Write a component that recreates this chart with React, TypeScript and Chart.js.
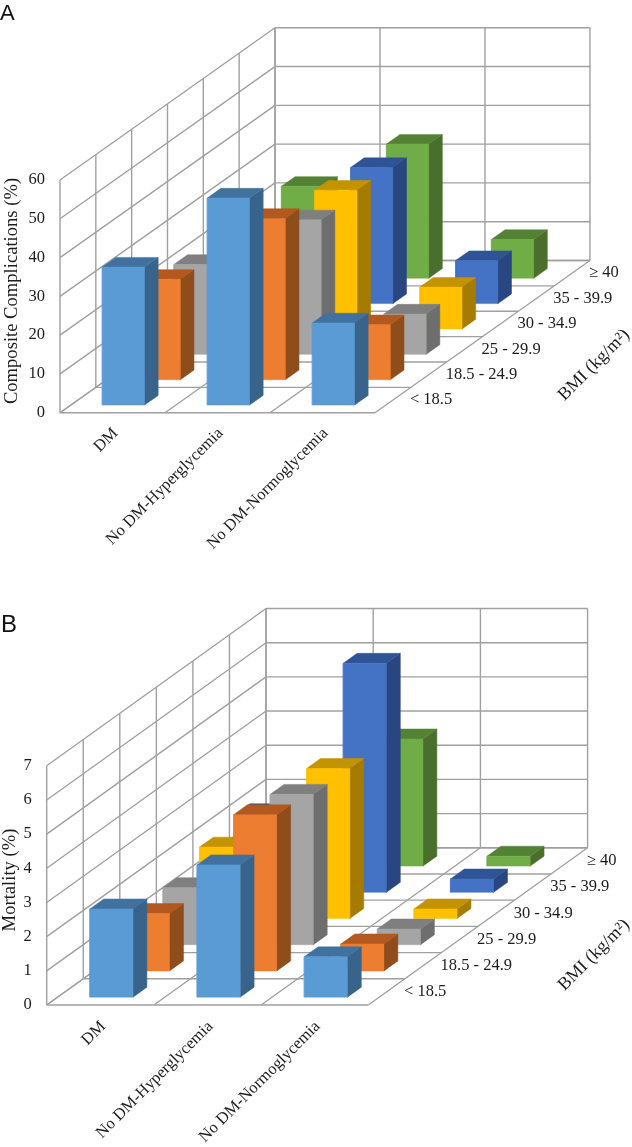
import React, { useEffect, useRef } from "react";
import { Chart, registerables } from "chart.js";

Chart.register(...registerables);

const categories = ["DM", "No DM-Hyperglycemia", "No DM-Normoglycemia"];
const bmiGroups = ["< 18.5", "18.5 - 24.9", "25 - 29.9", "30 - 34.9", "35 - 39.9", "≥ 40"];

const complicationsDm = [35.6, 25.9, 23.2, 25, 20, 23.7];
const complicationsHyper = [53.4, 41.6, 34.7, 35.8, 35.1, 34.6];
const complicationsNormo = [21.2, 14.2, 10.4, 10.8, 11.1, 10.0];

const mortalityDm = [2.58, 1.68, 1.67, 2.09, 2.3, 1.5];
const mortalityHyper = [3.87, 4.57, 4.4, 4.39, 6.7, 3.72];
const mortalityNormo = [1.18, 0.79, 0.46, 0.28, 0.39, 0.29];

const frontColors = ["#5B9BD5", "#ED7D31", "#A5A5A5", "#FFC000", "#4472C4", "#70AD47"];
const sideColors = ["#38648C", "#8F4D1C", "#6E6E6E", "#A67C00", "#2A4680", "#4A6F2C"];
const topColors = ["#41729F", "#B3591F", "#7F7F7F", "#C49300", "#2F5496", "#548235"];

const GRID = "#a0a0a0";
const INK = "#1c1c1c";
const SERIF = '"Liberation Serif"';

type Panel = {
  letter: string;
  letterX: number; letterY: number; letterSize: number;
  title: string;
  titleX: number; titleY: number;
  series: number[][];
  height: number;
  left: number;
  catPx: number;
  zeroY: number;
  plotTop: number;
  vMax: number;
  vTop: number;
  step: number;
  kx: number;
  ky: number;
  catLabelDx: number;
  catLabelDy: number;
  bmiLabelDx: number;
  bmiTitleX: number;
  bmiTitleY: number;
};

const panels: Panel[] = [
  {
    letter: "A", letterX: 0, letterY: 20, letterSize: 22,
    title: "Composite Complications (%)", titleX: 12, titleY: 291,
    series: [complicationsDm, complicationsHyper, complicationsNormo],
    height: 570, left: 60, catPx: 105, zeroY: 412.7, plotTop: 0, vMax: 60, vTop: 100, step: 10,
    kx: 35.83 / 105, ky: 27 / 4.127,
    catLabelDx: 3, catLabelDy: 18, bmiLabelDx: 17, bmiTitleX: 594, bmiTitleY: 365,
  },
  {
    letter: "B", letterX: 1, letterY: 62, letterSize: 24,
    title: "Mortality (%)", titleX: 10, titleY: 310,
    series: [mortalityDm, mortalityHyper, mortalityNormo],
    height: 577, left: 46.7, catPx: 107.2, zeroY: 435, plotTop: 4.68, vMax: 7, vTop: 12, step: 1,
    kx: 36.55 / 107.2, ky: 27.5 / 35.86,
    catLabelDx: 3, catLabelDy: 19, bmiLabelDx: 17.4, bmiTitleX: 594, bmiTitleY: 385,
  },
];

const WIDTH = 632;
const GAP = 0.3;
const BAR_W = 0.403;
const BAR_D = 0.38;

function buildDatasets(p: Panel) {
  const at = (c: number, d: number, v: number) => ({ x: c + d * p.kx, y: v + d * p.ky });
  const gridLine = (a: { x: number; y: number }, b: { x: number; y: number }) => ({
    type: "scatter" as const,
    data: [a, b],
    showLine: true,
    fill: false,
    borderColor: GRID,
    borderWidth: 1.4,
    pointRadius: 0,
    clip: false,
  });
  const face = (pts: { x: number; y: number }[], color: string) => ({
    type: "scatter" as const,
    data: [...pts, pts[0]],
    showLine: true,
    fill: "shape",
    backgroundColor: color,
    borderColor: color,
    borderWidth: 0.5,
    pointRadius: 0,
    clip: false,
  });

  const nCat = categories.length;
  const nRow = bmiGroups.length;
  const sequence: any[] = [];

  for (let v = 0; v <= p.vMax; v += p.step) {
    sequence.push(gridLine(at(0, 0, v), at(0, nRow, v)));
    sequence.push(gridLine(at(0, nRow, v), at(nCat, nRow, v)));
  }
  for (let r = 0; r <= nRow; r++) {
    sequence.push(gridLine(at(0, r, 0), at(0, r, p.vMax)));
    sequence.push(gridLine(at(0, r, 0), at(nCat, r, 0)));
  }
  for (let c = 0; c <= nCat; c++) {
    sequence.push(gridLine(at(c, 0, 0), at(c, nRow, 0)));
    sequence.push(gridLine(at(c, nRow, 0), at(c, nRow, p.vMax)));
  }

  for (let r = nRow - 1; r >= 0; r--) {
    for (let c = 0; c < nCat; c++) {
      const v = p.series[c][r];
      const c0 = c + GAP;
      const c1 = c0 + BAR_W;
      const d0 = r + GAP;
      const d1 = d0 + BAR_D;
      sequence.push(face([at(c1, d0, 0), at(c1, d1, 0), at(c1, d1, v), at(c1, d0, v)], sideColors[r]));
      sequence.push(face([at(c0, d0, v), at(c1, d0, v), at(c1, d1, v), at(c0, d1, v)], topColors[r]));
      sequence.push(face([at(c0, d0, 0), at(c1, d0, 0), at(c1, d0, v), at(c0, d0, v)], frontColors[r]));
    }
  }
  // Chart.js paints the first dataset last.
  return sequence.reverse();
}

function textPlugin(p: Panel) {
  return {
    id: "panelText" + p.letter,
    afterDraw(chart: any) {
      const { ctx, scales } = chart;
      const sx = scales.x;
      const sy = scales.y;
      const rotated = (text: string, x: number, y: number, align: CanvasTextAlign, font: string, angle: number) => {
        ctx.save();
        ctx.translate(x, y);
        ctx.rotate(angle);
        ctx.font = font;
        ctx.fillStyle = INK;
        ctx.textAlign = align;
        ctx.textBaseline = "middle";
        ctx.fillText(text, 0, 0);
        ctx.restore();
      };
      categories.forEach((name, c) => {
        rotated(
          name,
          sx.getPixelForValue(c + 0.5) + p.catLabelDx,
          sy.getPixelForValue(0) + p.catLabelDy,
          "right",
          `16.5px ${SERIF}`,
          -Math.PI / 4,
        );
      });
      bmiGroups.forEach((name, r) => {
        const d = r + 0.5;
        rotated(
          name,
          sx.getPixelForValue(categories.length + d * p.kx) + p.bmiLabelDx,
          sy.getPixelForValue(d * p.ky),
          "left",
          `16.5px ${SERIF}`,
          0,
        );
      });
      rotated("BMI (kg/m²)", p.bmiTitleX, p.bmiTitleY, "center", `18px ${SERIF}`, -Math.PI / 4);
      rotated(p.title, p.titleX, p.titleY, "center", `18.6px ${SERIF}`, -Math.PI / 2);
      ctx.save();
      ctx.font = `${p.letterSize}px "Liberation Sans"`;
      ctx.fillStyle = "#111";
      ctx.textAlign = "left";
      ctx.textBaseline = "alphabetic";
      ctx.fillText(p.letter, p.letterX, p.letterY);
      ctx.restore();
    },
  };
}

function PanelChart({ panel }: { panel: Panel }) {
  const ref = useRef<HTMLCanvasElement>(null);
  useEffect(() => {
    const canvas = ref.current;
    if (!canvas) return;
    const chart = new Chart(canvas, {
      type: "scatter",
      data: { datasets: buildDatasets(panel) as any },
      options: {
        responsive: false,
        animation: false,
        events: [],
        layout: {
          autoPadding: false,
          padding: { top: panel.plotTop, bottom: panel.height - panel.zeroY, left: 0, right: 0 },
        },
        plugins: {
          legend: { display: false },
          title: { display: false },
          tooltip: { enabled: false },
        },
        scales: {
          x: {
            type: "linear",
            display: false,
            min: 0,
            max: (WIDTH - panel.left) / panel.catPx,
          },
          y: {
            type: "linear",
            position: "left",
            min: 0,
            max: panel.vTop,
            afterFit(scale: any) {
              scale.width = panel.left;
            },
            grid: { display: false, drawTicks: false },
            border: { display: false },
            ticks: {
              stepSize: panel.step,
              autoSkip: false,
              padding: 15,
              color: INK,
              font: { family: SERIF, size: 16.5 },
              callback: (v: any) => (Number(v) <= panel.vMax ? String(v) : ""),
            },
          },
        },
      },
      plugins: [textPlugin(panel)],
    } as any);
    return () => chart.destroy();
  }, [panel]);
  return <canvas ref={ref} width={WIDTH} height={panel.height} style={{ display: "block" }} />;
}

export default function App() {
  return (
    <div style={{ position: "absolute", left: 0, top: 0, width: WIDTH, background: "#fff" }}>
      {panels.map((p) => (
        <PanelChart key={p.letter} panel={p} />
      ))}
    </div>
  );
}
